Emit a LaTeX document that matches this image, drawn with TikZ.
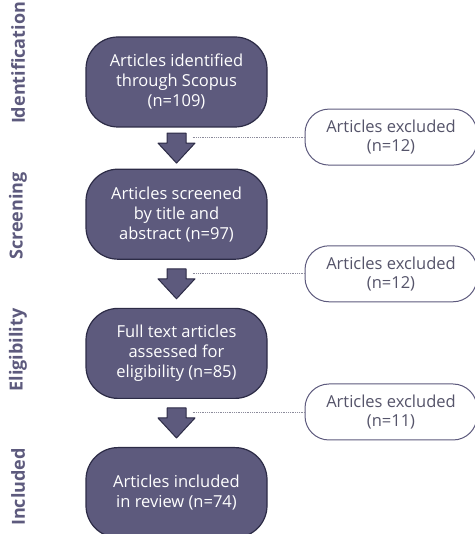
\documentclass[tikz,border=0pt]{standalone}
\usepackage{fontspec}
\setmainfont{Open Sans}
\usepackage{tikz}
\usetikzlibrary{positioning,calc}
\definecolor{Slate}{HTML}{5D5A7D}
\definecolor{SlateDark}{HTML}{2C2B46}
\definecolor{SlateText}{HTML}{55546A}
\definecolor{DotGray}{HTML}{8C8B9B}

\tikzset{
  stagebox/.style={draw=SlateDark,line width=1.2pt,fill=Slate,text=white,rounded corners=32pt,
    minimum width=181pt,minimum height=90pt,align=center,font=\fontsize{16.5}{20}\selectfont},
  exclbox/.style={draw=Slate,line width=1pt,fill=white,text=SlateText,rounded corners=24pt,
    minimum width=172pt,minimum height=56pt,align=center,font=\fontsize{16.5}{19}\selectfont},
  phase/.style={rotate=90,text=Slate,font=\fontsize{18}{20}\selectfont\bfseries},
  flowarrow/.style={draw=SlateDark,line width=1pt,fill=Slate,line join=round},
  skipline/.style={draw=DotGray,densely dotted,line width=0.8pt}
}

\begin{document}
\begin{tikzpicture}[x=1pt,y=1pt]
  \useasboundingbox (0,0) rectangle (474,534);
  % main flow
  \node[stagebox] (id) at (176.5,452) {Articles identified\\through Scopus\\(n=109)};
  \node[stagebox,below=41pt of id] (scr) {Articles screened\\by title and\\abstract (n=97)};
  \node[stagebox,below=48pt of scr] (elig) {Full text articles\\assessed for\\eligibility (n=85)};
  \node[stagebox,below=48pt of elig] (incl) {Articles included\\in review (n=74)};
  % phase labels
  \node[phase] (pid) at (18,471) {Identification};
  \node[phase] (pscr) at (18,318) {Screening};
  \node[phase] (pelig) at (18,184) {Eligibility};
  \node[phase] (pincl) at (18,47) {Included};
  % arrows between stages
  \foreach \a/\b/\n in {id/scr/1,scr/elig/2,elig/incl/3}{
    \coordinate (m\n) at ($(\a.south)!0.5!(\b.north)$);
    \path[flowarrow] ($(m\n)+(-9.5,15)$) -- ($(m\n)+(9.5,15)$) -- ($(m\n)+(9.5,5)$)
      -- ($(m\n)+(18.5,5)$) -- ($(m\n)+(0,-15)$) -- ($(m\n)+(-18.5,5)$)
      -- ($(m\n)+(-9.5,5)$) -- cycle;
  }
  % excluded records
  \node[exclbox] (ex1) at ($(m1)+(214.5,11)$) {Articles excluded\\(n=12)};
  \node[exclbox] (ex2) at ($(m2)+(214.5,10)$) {Articles excluded\\(n=12)};
  \node[exclbox] (ex3) at ($(m3)+(214.5,11)$) {Articles excluded\\(n=11)};
  \draw[skipline] ($(m1)+(16,11)$) -- (ex1.west);
  \draw[skipline] ($(m2)+(16,10)$) -- (ex2.west);
  \draw[skipline] ($(m3)+(16,11)$) -- (ex3.west);
\end{tikzpicture}
\end{document}
